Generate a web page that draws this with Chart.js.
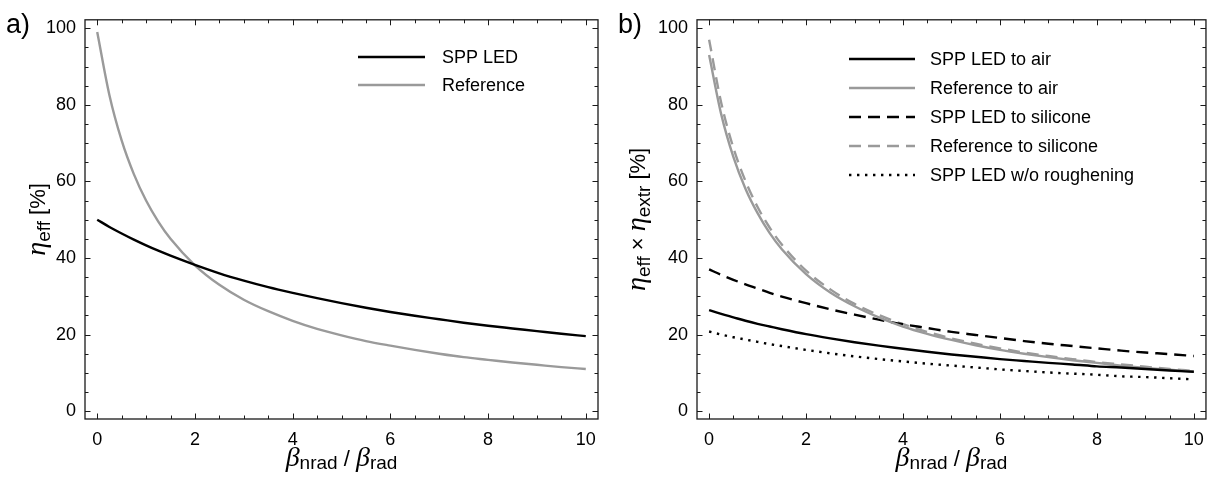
<!DOCTYPE html>
<html>
<head>
<meta charset="utf-8">
<script src="https://cdn.jsdelivr.net/npm/chart.js@4.4.1/dist/chart.umd.min.js"></script>
<style>
  body { margin: 0; background: #fff; width: 1214px; height: 479px; overflow: hidden; position: relative; }
  canvas { position: absolute; top: 0; }
  #chartA { left: 0; }
  #chartB { left: 607px; }
</style>
</head>
<body>
<canvas id="chartA" width="607" height="479"></canvas>
<canvas id="chartB" width="607" height="479"></canvas>
<script>
// beta_nrad / beta_rad sample points (shared by both panels)
const betaValues = [0, 0.25, 0.5, 0.75, 1, 1.25, 1.5, 2, 2.5, 3, 3.5, 4, 4.5, 5, 5.5, 6, 6.5, 7, 7.5, 8, 8.5, 9, 9.5, 10];
const xTickValues = [0, 2, 4, 6, 8, 10];
const yTickValues = [0, 20, 40, 60, 80, 100];

// panel a) internal efficiency [%]
const sppLed = [50, 48.1, 46.4, 44.8, 43.3, 41.9, 40.6, 38.2, 36.0, 34.1, 32.4, 30.9, 29.5, 28.2, 27.0, 25.9, 24.9, 24.0, 23.1, 22.3, 21.6, 20.9, 20.2, 19.6];
const referenceLed = [99, 82.5, 70.7, 61.9, 55.0, 49.5, 45.0, 38.1, 33.0, 29.1, 26.1, 23.6, 21.5, 19.8, 18.3, 17.1, 16.0, 15.0, 14.1, 13.4, 12.7, 12.1, 11.5, 11.0];

// panel b) efficiency x extraction [%]
const sppAir = [26.4, 25.4, 24.5, 23.6, 22.8, 22.1, 21.4, 20.1, 19.0, 18.0, 17.1, 16.3, 15.5, 14.8, 14.2, 13.6, 13.1, 12.6, 12.2, 11.7, 11.4, 11.0, 10.6, 10.3];
const refAir = [93, 77.5, 66.4, 58.1, 51.7, 46.5, 42.3, 35.8, 31.0, 27.4, 24.5, 22.1, 20.2, 18.6, 17.2, 16.0, 15.0, 14.1, 13.3, 12.6, 11.9, 11.3, 10.8, 10.3];
const sppSilicone = [37, 35.6, 34.3, 33.1, 32.0, 30.9, 29.9, 28.2, 26.6, 25.2, 23.9, 22.7, 21.7, 20.7, 19.9, 19.1, 18.3, 17.6, 17.0, 16.4, 15.8, 15.3, 14.9, 14.4];
const refSilicone = [97, 80.5, 68.8, 60.1, 53.3, 47.9, 43.5, 36.7, 31.8, 28.0, 25.1, 22.7, 20.7, 19.0, 17.6, 16.4, 15.3, 14.4, 13.6, 12.8, 12.2, 11.6, 11.0, 10.5];
const sppNoRoughening = [20.8, 20.0, 19.3, 18.7, 18.1, 17.5, 17.0, 16.0, 15.1, 14.3, 13.6, 13.0, 12.4, 11.9, 11.4, 10.9, 10.5, 10.1, 9.8, 9.5, 9.1, 8.9, 8.6, 8.3];

const BLACK = '#000000';
const GREY = '#9a9a9a';
const SANS = '"Liberation Sans", Arial, Helvetica, sans-serif';
const SERIF = '"Liberation Serif", "Times New Roman", serif';

function toPoints(values) {
  return betaValues.map((b, i) => ({ x: b, y: values[i] }));
}

function makeDataset(label, values, color, dash) {
  return {
    label: label,
    data: toPoints(values),
    borderColor: color,
    borderWidth: 2.4,
    borderDash: dash || [],
    pointRadius: 0,
    fill: false,
    cubicInterpolationMode: 'monotone'
  };
}

// draws a mixed-font label (italic greek + subscripts) with its baseline at y=0 after rotation
function drawRich(ctx, parts, cx, cy, angle) {
  ctx.save();
  ctx.translate(cx, cy);
  ctx.rotate(angle);
  let total = 0;
  parts.forEach(p => {
    ctx.font = p.font;
    p.w = ctx.measureText(p.text).width;
    total += p.w;
  });
  let x = -total / 2;
  ctx.fillStyle = BLACK;
  ctx.textBaseline = 'alphabetic';
  ctx.textAlign = 'left';
  parts.forEach(p => {
    ctx.font = p.font;
    ctx.fillText(p.text, x, p.dy || 0);
    x += p.w;
  });
  ctx.restore();
}

// frame with inward ticks on all four sides, axis titles, legend, panel letter
const panelDecor = {
  id: 'panelDecor',
  afterDraw(chart, args, opts) {
    const ctx = chart.ctx;
    const a = chart.chartArea;
    const xs = chart.scales.x;
    const ys = chart.scales.y;
    ctx.save();
    ctx.strokeStyle = '#1a1a1a';
    ctx.lineWidth = 1.3;
    ctx.setLineDash([]);
    ctx.strokeRect(a.left, a.top, a.right - a.left, a.bottom - a.top);

    ctx.beginPath();
    for (let v = 0; v <= 10; v += 0.5) {
      const px = Math.round(xs.getPixelForValue(v)) + 0.5;
      const len = v % 2 === 0 ? 5.5 : 3.5;
      ctx.moveTo(px, a.bottom); ctx.lineTo(px, a.bottom - len);
      ctx.moveTo(px, a.top); ctx.lineTo(px, a.top + len);
    }
    for (let v = 0; v <= 100; v += 5) {
      const py = Math.round(ys.getPixelForValue(v)) + 0.5;
      const len = v % 20 === 0 ? 5.5 : 3.5;
      ctx.moveTo(a.left, py); ctx.lineTo(a.left + len, py);
      ctx.moveTo(a.right, py); ctx.lineTo(a.right - len, py);
    }
    ctx.lineWidth = 1;
    ctx.stroke();

    // legend
    const lg = opts.legend;
    chart.data.datasets.forEach((ds, i) => {
      const y = lg.y + i * lg.rowHeight;
      ctx.beginPath();
      ctx.strokeStyle = ds.borderColor;
      ctx.lineWidth = ds.borderWidth;
      ctx.setLineDash(ds.borderDash);
      ctx.moveTo(lg.x1, y);
      ctx.lineTo(lg.x2, y);
      ctx.stroke();
      ctx.setLineDash([]);
      ctx.fillStyle = BLACK;
      ctx.font = '18px ' + SANS;
      ctx.textBaseline = 'middle';
      ctx.textAlign = 'left';
      ctx.fillText(ds.label, lg.textX, y + 1);
    });

    // axis titles
    const cx = (a.left + a.right) / 2;
    const cy = (a.top + a.bottom) / 2;
    drawRich(ctx, opts.xTitle, cx, 466, 0);
    drawRich(ctx, opts.yTitle, opts.yTitleX, cy, -Math.PI / 2);

    // panel letter
    ctx.fillStyle = BLACK;
    ctx.font = '27px ' + SANS;
    ctx.textBaseline = 'alphabetic';
    ctx.textAlign = 'left';
    ctx.fillText(opts.panelLabel, opts.panelX, 33);
    ctx.restore();
  }
};

const greekFont = 'italic 28px ' + SERIF;
const subFont = '19px ' + SANS;
const plainFont = '22px ' + SANS;

const xTitleParts = [
  { text: 'β', font: greekFont },
  { text: 'nrad', font: subFont, dy: 3 },
  { text: ' / ', font: plainFont },
  { text: 'β', font: greekFont },
  { text: 'rad', font: subFont, dy: 3 }
];

function scaleOptions(yWidth) {
  return {
    x: {
      type: 'linear',
      min: -0.25,
      max: 10.25,
      grid: { display: false, drawTicks: false },
      border: { display: false },
      afterBuildTicks: scale => { scale.ticks = xTickValues.map(v => ({ value: v })); },
      afterFit: scale => { scale.height = 60; },
      ticks: { color: BLACK, font: { family: SANS, size: 18 }, padding: 10, maxRotation: 0 }
    },
    y: {
      type: 'linear',
      min: -2.05,
      max: 102.2,
      grid: { display: false, drawTicks: false },
      border: { display: false },
      afterBuildTicks: scale => { scale.ticks = yTickValues.map(v => ({ value: v })); },
      afterFit: scale => { scale.width = yWidth; },
      ticks: { color: BLACK, font: { family: SANS, size: 18 }, padding: 9 }
    }
  };
}

new Chart(document.getElementById('chartA'), {
  type: 'line',
  data: {
    datasets: [
      makeDataset('SPP LED', sppLed, BLACK),
      makeDataset('Reference', referenceLed, GREY)
    ]
  },
  options: {
    responsive: false,
    animation: false,
    layout: { padding: { left: 0, right: 9, top: 10, bottom: 0 } },
    scales: scaleOptions(85),
    plugins: {
      legend: { display: false },
      tooltip: { enabled: false },
      panelDecor: {
        panelLabel: 'a)',
        panelX: 6,
        legend: { x1: 358, x2: 425, textX: 442, y: 57, rowHeight: 28 },
        xTitle: xTitleParts,
        yTitleX: 45,
        yTitle: [
          { text: 'η', font: greekFont },
          { text: 'eff', font: subFont, dy: 5 },
          { text: ' [%]', font: plainFont }
        ]
      }
    }
  },
  plugins: [panelDecor]
});

new Chart(document.getElementById('chartB'), {
  type: 'line',
  data: {
    datasets: [
      makeDataset('SPP LED to air', sppAir, BLACK),
      makeDataset('Reference to air', refAir, GREY),
      makeDataset('SPP LED to silicone', sppSilicone, BLACK, [12, 7]),
      makeDataset('Reference to silicone', refSilicone, GREY, [12, 7]),
      makeDataset('SPP LED w/o roughening', sppNoRoughening, BLACK, [2.4, 5.6])
    ]
  },
  options: {
    responsive: false,
    animation: false,
    layout: { padding: { left: 0, right: 6, top: 10, bottom: 0 } },
    scales: scaleOptions(90),
    plugins: {
      legend: { display: false },
      tooltip: { enabled: false },
      panelDecor: {
        panelLabel: 'b)',
        panelX: 11,
        legend: { x1: 242, x2: 308, textX: 323, y: 59, rowHeight: 29 },
        xTitle: xTitleParts,
        yTitleX: 38,
        yTitle: [
          { text: 'η', font: greekFont },
          { text: 'eff', font: subFont, dy: 5 },
          { text: ' × ', font: plainFont },
          { text: 'η', font: greekFont },
          { text: 'extr', font: subFont, dy: 5 },
          { text: ' [%]', font: plainFont }
        ]
      }
    }
  },
  plugins: [panelDecor]
});
</script>
</body>
</html>
